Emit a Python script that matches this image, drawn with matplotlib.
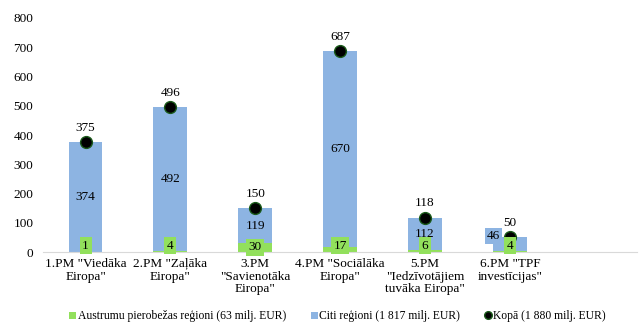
import matplotlib
matplotlib.use("Agg")
import matplotlib.pyplot as plt
import numpy as np

categories = ['1.PM "Viedāka\nEiropa"', '2.PM "Zaļāka\nEiropa"', '3.PM\n"Savienotāka\nEiropa"',
              '4.PM "Sociālāka\nEiropa"', '5.PM\n"Iedzīvotājiem\ntuvāka Eiropa"', '6.PM "TPF\ninvestīcijas"']
austrumu = [1, 4, 30, 17, 6, 4]
citi = [374, 492, 119, 670, 112, 46]
kopa = [375, 496, 150, 687, 118, 50]
yticks = [0, 100, 200, 300, 400, 500, 600, 700, 800]

GREEN = '#92E05C'
BLUE = '#8DB4E2'

plt.rcParams['font.family'] = ['Liberation Serif', 'DejaVu Serif']
fig = plt.figure(figsize=(6.43, 3.33), dpi=100)
ax = fig.add_axes([0.067, 0.243, 0.924, 0.703])

x = np.arange(len(categories))
w = 0.4
b1 = ax.bar(x, austrumu, w, color=GREEN, zorder=2)
b2 = ax.bar(x, citi, w, bottom=austrumu, color=BLUE, zorder=2)
l1, = ax.plot(x, kopa, 'o', color='black', markeredgecolor='#1a5a1a', markersize=8.5, zorder=3)

fs = 9.5
for i in range(len(x)):
    # blue labels (center of segment)
    dx = -12 if i == 5 else 0
    dy = 6 if i == 5 else 0
    ax.annotate(str(citi[i]), (x[i], austrumu[i] + citi[i] / 2), xytext=(dx, dy),
                textcoords='offset points', ha='center', va='center', fontsize=fs, zorder=4,
                bbox=dict(boxstyle='square,pad=0.15', fc=BLUE, ec='none'))
    # green labels
    ax.annotate(str(austrumu[i]), (x[i], 0), xytext=(0, 4.5 if austrumu[i] < 25 else 3.5),
                textcoords='offset points', ha='center', va='center', fontsize=fs, zorder=5,
                bbox=dict(boxstyle='square,pad=0.2', fc=GREEN, ec='none'))
    # totals
    ax.annotate(str(kopa[i]), (x[i], kopa[i]), xytext=(0, 6), textcoords='offset points',
                ha='center', va='bottom', fontsize=fs)

ax.set_xlim(-0.5, 6.5)
ax.set_ylim(0, 800)
ax.set_yticks(yticks)
ax.set_xticks(x)
ax.set_xticklabels(categories, fontsize=fs, linespacing=1.1)
ax.tick_params(axis='both', length=0, labelsize=fs)
ax.tick_params(axis='y', pad=7)
ax.tick_params(axis='x', pad=4)
for s in ['top', 'right', 'left']:
    ax.spines[s].set_visible(False)
ax.spines['bottom'].set_color('#d9d9d9')

handles = [b1, b2, l1]
labels = ['Austrumu pierobežas reģioni (63 milj. EUR)', 'Citi reģioni (1 817 milj. EUR)',
          'Kopā (1 880 milj. EUR)']
leg = fig.legend(handles, labels, loc='center', bbox_to_anchor=(0.525, 0.05), ncol=3, frameon=False,
                 fontsize=8.4, handlelength=0.6, handleheight=0.6, handletextpad=0.15,
                 columnspacing=2.1, markerscale=0.65)

fig.savefig('out.png', dpi=100)
